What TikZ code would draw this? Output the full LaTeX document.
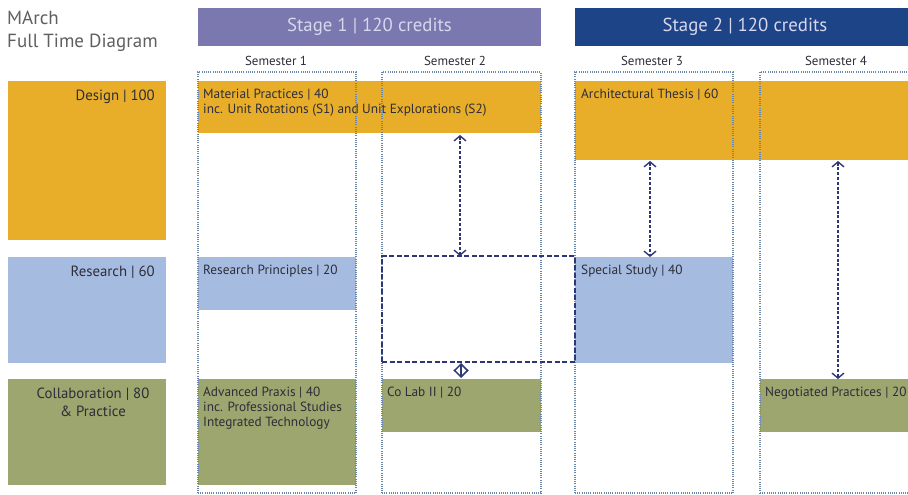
\documentclass[tikz,border=0pt]{standalone}
\usepackage{fontspec}
\setmainfont{PT Sans}
\usetikzlibrary{arrows.meta}
\definecolor{dorange}{RGB}{232,174,42}
\definecolor{rblue}{RGB}{165,188,224}
\definecolor{colive}{RGB}{156,166,110}
\definecolor{stageone}{RGB}{122,120,174}
\definecolor{stagetwo}{RGB}{30,68,136}
\definecolor{navy}{RGB}{45,55,120}
\definecolor{dotcol}{RGB}{105,135,170}
\definecolor{txtdark}{RGB}{45,45,58}
\definecolor{titlegray}{RGB}{95,95,95}
\definecolor{stagetxt}{RGB}{215,215,238}
\begin{document}
\begin{tikzpicture}[x=1pt,y=-1pt,
  cell/.style={fill=#1, draw=none, anchor=north west, inner sep=0pt, outer sep=0pt},
  column/.style={draw=dotcol, line width=1.1pt, dash pattern=on 0.9pt off 1.3pt, anchor=north west, inner sep=0pt, outer sep=0pt, minimum height=421pt},
  stagehead/.style={fill=#1, anchor=north west, inner sep=0pt, outer sep=0pt, minimum height=38pt, text=stagetxt, font=\fontsize{18.8}{20}\selectfont},
  semlabel/.style={text=txtdark, font=\fontsize{13}{15}\selectfont, inner sep=0pt},
  boxtext/.style={text=txtdark, font=\fontsize{13.3}{15}\selectfont, align=left, anchor=north west, inner sep=0pt},
  cattext/.style={text=txtdark, font=\fontsize{14.8}{18}\selectfont, inner sep=0pt},
  biarrow/.style={draw=navy, line width=1.4pt, dash pattern=on 3pt off 1.8pt, {Straight Barb[length=5pt,width=12pt,line width=1.4pt]}-{Straight Barb[length=5pt,width=12pt,line width=1.4pt]}},
  dbox/.style={draw=navy, line width=1.5pt, dash pattern=on 5pt off 2.5pt, anchor=north west, inner sep=0pt, outer sep=0pt}
]
\useasboundingbox (0,0) rectangle (908,495);
\clip (0,0) rectangle (908,495);

% title
\node[anchor=north west, align=left, inner sep=0pt, text=titlegray, font=\fontsize{19}{23}\selectfont] (title) at (7,11) {MArch\\Full Time Diagram};

% stage headers
\node[stagehead=stageone, minimum width=343pt] (stage1) at (198,8) {Stage 1 | 120 credits};
\node[stagehead=stagetwo, minimum width=340pt] (stage2) at (575,8) {Stage 2 | 120 credits};

% semester labels
\node[semlabel] (s1) at (276,61) {Semester 1};
\node[semlabel] (s2) at (455,61) {Semester 2};
\node[semlabel] (s3) at (652,61) {Semester 3};
\node[semlabel] (s4) at (836,61) {Semester 4};

% category boxes
\node[cell=dorange, minimum width=158pt, minimum height=159pt] (design) at (8,81) {};
\node[cell=rblue, minimum width=158pt, minimum height=106pt] (research) at (8,257) {};
\node[cell=colive, minimum width=158pt, minimum height=106pt] (collab) at (8,379) {};
\node[cattext, anchor=north east] at ([xshift=-11pt,yshift=-9pt]design.north east) {Design | 100};
\node[cattext, anchor=north east] at ([xshift=-11pt,yshift=-9pt]research.north east) {Research | 60};
\node[cattext, anchor=north, align=center] at (93,388) {Collaboration | 80\\\& Practice};

% module boxes
\node[cell=dorange, minimum width=343pt, minimum height=52pt] (mp) at (198,81) {};
\node[cell=dorange, minimum width=340pt, minimum height=79pt] (at) at (575,81) {};
\node[cell=rblue, minimum width=158pt, minimum height=53pt] (rp) at (198,257) {};
\node[cell=rblue, minimum width=158pt, minimum height=106pt] (ss) at (575,257) {};
\node[cell=colive, minimum width=158pt, minimum height=106pt] (ap) at (198,379) {};
\node[cell=colive, minimum width=159pt, minimum height=53pt] (colab) at (382,379) {};
\node[cell=colive, minimum width=160pt, minimum height=53pt] (np) at (760,379) {};

\node[boxtext] at ([xshift=5pt,yshift=-8pt]mp.north west) {Material Practices | 40\\inc. Unit Rotations (S1) and Unit Explorations (S2)};
\node[boxtext] at ([xshift=6pt,yshift=-8pt]at.north west) {Architectural Thesis | 60};
\node[boxtext] at ([xshift=5pt,yshift=-8pt]rp.north west) {Research Principles | 20};
\node[boxtext] at ([xshift=6pt,yshift=-8pt]ss.north west) {Special Study | 40};
\node[boxtext] at ([xshift=5pt,yshift=-8pt]ap.north west) {Advanced Praxis | 40\\inc. Professional Studies\\Integrated Technology};
\node[boxtext] at ([xshift=5pt,yshift=-8pt]colab.north west) {Co Lab II | 20};
\node[boxtext] at ([xshift=5pt,yshift=-8pt]np.north west) {Negotiated Practices | 20};

% dotted semester columns
\node[column, minimum width=158pt] (c1) at (198,72) {};
\node[column, minimum width=159pt] (c2) at (382,72) {};
\node[column, minimum width=158pt] (c3) at (575,72) {};
\node[column, minimum width=160pt] (c4) at (760,72) {};

% dashed box
\node[dbox, minimum width=193pt, minimum height=106pt] (db) at (382,256) {};

% arrows
\coordinate (x1) at (460,0);
\coordinate (x2) at (650,0);
\coordinate (x3) at (838,0);
\coordinate (x4) at (461,0);
\draw[biarrow] ([yshift=-2pt]mp.south -| x1) -- (db.north -| x1);
\draw[biarrow] ([yshift=-1pt]at.south -| x2) -- (ss.north -| x2);
\draw[biarrow] ([yshift=-1pt]at.south -| x3) -- (np.north -| x3);
\draw[draw=navy, line width=1.5pt, {Straight Barb[length=7pt,width=14pt,line width=1.5pt]}-{Straight Barb[length=7pt,width=14pt,line width=1.5pt]}] ([yshift=-1pt]db.south -| x4) -- ([yshift=1pt]colab.north -| x4);
\end{tikzpicture}
\end{document}
